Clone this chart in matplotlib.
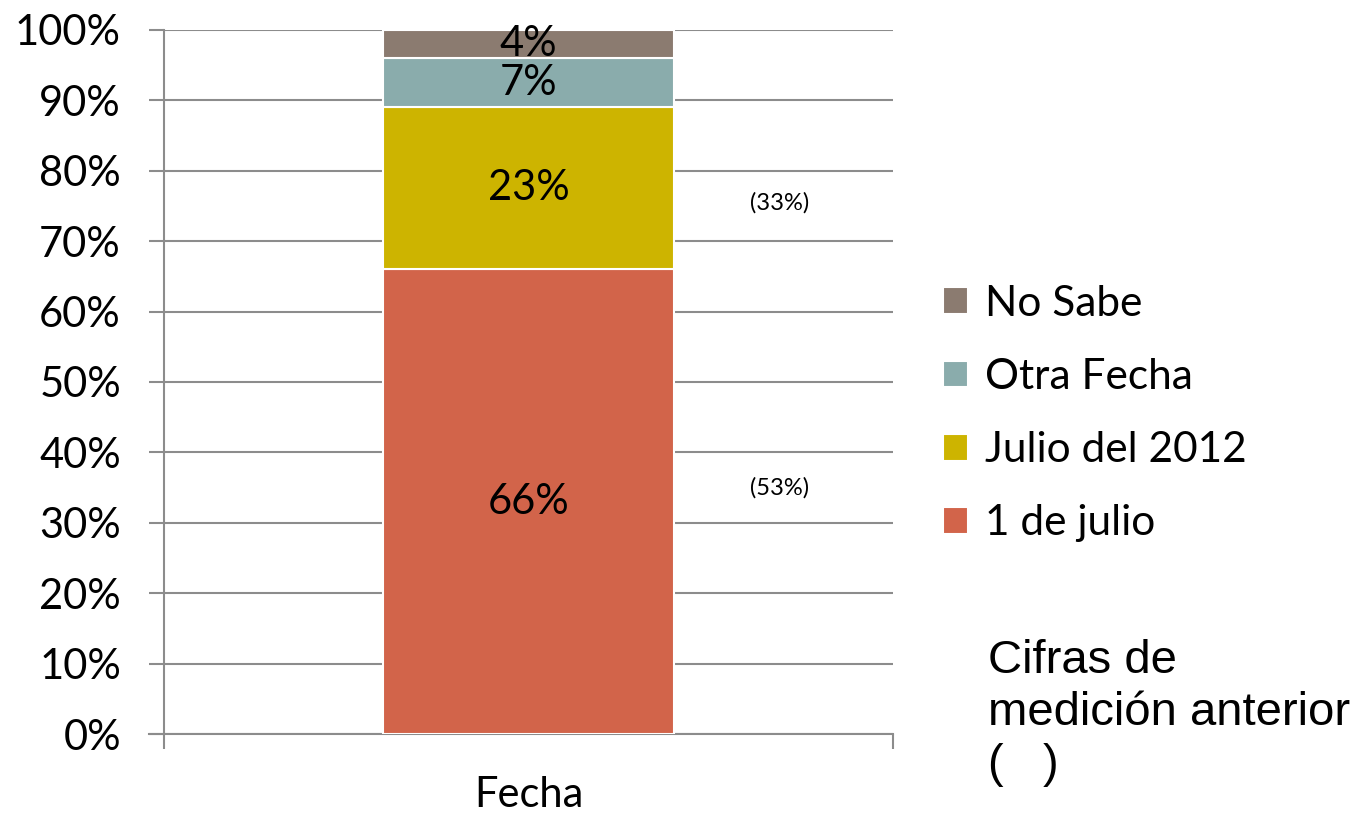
import matplotlib.pyplot as plt
import numpy as np

plt.rcParams['font.family'] = ['Lato', 'DejaVu Sans']

# --- datos ---
categoria = ['Fecha']
series = ['1 de julio', 'Julio del 2012', 'Otra Fecha', 'No Sabe']
valores = [66, 23, 7, 4]
colores = ['#D2644A', '#CDB400', '#8AACAC', '#8B7B70']
anterior = ['(53%)', '(33%)', '', '']
anterior_y = [35, 75.5, None, None]

fig = plt.figure(figsize=(13.59, 8.14), dpi=100)
ax = fig.add_axes([164/1359, 80/814, 729/1359, 704/814])

grid_color = '#8C8C8C'
base = 0
handles = []
for nombre, v, c in zip(series, valores, colores):
    b = ax.bar(0, v, bottom=base, width=0.4, color=c, edgecolor='white',
               linewidth=1.5, zorder=3, label=nombre)
    handles.append(b)
    ax.text(0, base + v / 2, f'{v}%', ha='center', va='center',
            fontsize=30, zorder=4)
    base += v

for txt, y in zip(anterior, anterior_y):
    if txt:
        ax.text(0.344, y, txt, ha='center', va='center', fontsize=17,
                family=['Lato', 'DejaVu Sans'])

ax.set_xlim(-0.5, 0.5)
ax.set_ylim(0, 100)
ax.set_yticks(np.arange(0, 101, 10))
ax.set_yticklabels([f'{t}%' for t in range(0, 101, 10)], fontsize=30)
ax.set_xticks([-0.5, 0.5])
ax.set_xticklabels(['', ''])
ax.tick_params(axis='x', direction='out', length=11, width=1.5, color=grid_color)
ax.tick_params(axis='y', direction='out', length=11, width=1.5, color=grid_color, pad=20)
ax.grid(axis='y', color=grid_color, linewidth=1.5, zorder=0)
ax.set_axisbelow(True)
for s in ['top', 'right']:
    ax.spines[s].set_visible(False)
for s in ['left', 'bottom']:
    ax.spines[s].set_color(grid_color)
    ax.spines[s].set_linewidth(1.5)
ax.spines['bottom'].set_bounds(-0.52, 0.5)

ax.text(0, -8.7, categoria[0], ha='center', va='center', fontsize=30)

fig.legend(handles[::-1], series[::-1], loc='center left',
           bbox_to_anchor=(943/1359, 1 - 413.5/814), frameon=False,
           fontsize=30.5, handlelength=0.6, handleheight=0.6,
           handletextpad=0.38, labelspacing=0.83, borderpad=0, borderaxespad=0)

fig.text(988/1359, 1 - 713/814, 'Cifras de\nmedición anterior\n(   )',
         ha='left', va='center', fontsize=34, linespacing=1.24,
         family=['Liberation Sans', 'DejaVu Sans'])

plt.savefig('out.png', dpi=100)
